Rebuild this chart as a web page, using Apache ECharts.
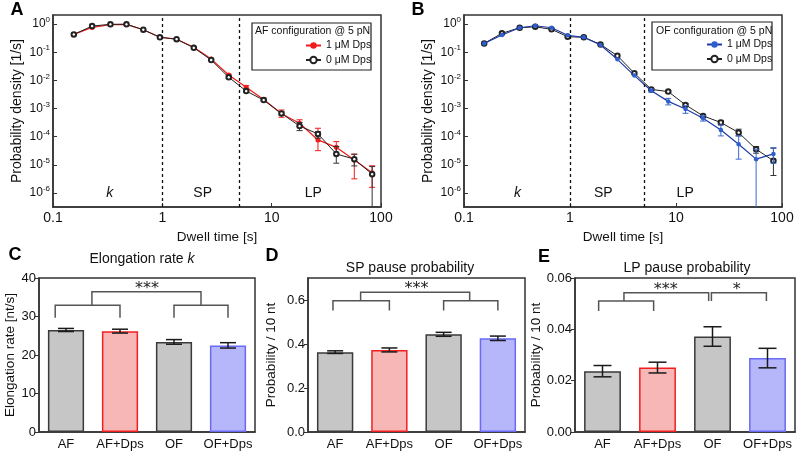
<!DOCTYPE html>
<html><head><meta charset="utf-8">
<script src="https://cdn.jsdelivr.net/npm/echarts@6/dist/echarts.min.js"></script>
<style>html,body{margin:0;padding:0;background:#fff}#c{width:800px;height:457px}</style>
</head><body><div id="c"></div>
<script>
// ---------- DATA ----------
const dwellTimes = [0.155, 0.228, 0.335, 0.47, 0.67, 0.95, 1.35, 1.94, 2.8, 4.05, 5.85, 8.45, 12.3, 18, 26.5, 39, 57, 83];
// Panel A (AF configuration)
const afDps1 = [0.43, 0.76, 0.95, 0.98, 0.63, 0.34, 0.29, 0.15, 0.057, 0.0155, 0.0057, 0.0021, 6.5e-4, 3.0e-4, 7.7e-5, 4.2e-5, 1.5e-5, 5.3e-6];
const afDps1Lo = [null, null, null, null, null, null, null, null, null, 0.0145, 0.0049, 0.0019, 4.9e-4, 2.3e-4, 3.2e-5, 2.45e-5, 3.2e-6, 1.6e-6];
const afDps1Hi = [null, null, null, null, null, null, null, null, null, 0.0166, 0.0065, 0.0024, 8.9e-4, 4.0e-4, 2.0e-4, 6.7e-5, 2.4e-5, 9.3e-6];
const afDps0 = [0.43, 0.85, 0.98, 0.98, 0.63, 0.34, 0.29, 0.144, 0.053, 0.0129, 0.0042, 0.0020, 6.7e-4, 2.4e-4, 1.26e-4, 2.45e-5, 1.6e-5, 4.7e-6];
const afDps0Lo = [null, null, null, null, null, null, null, null, null, 0.0118, 0.0039, 0.00185, 5.9e-4, 1.65e-4, 8.9e-5, 1.15e-5, 9.2e-6, 1e-8];
const afDps0Hi = [null, null, null, null, null, null, null, null, null, 0.0141, 0.0046, 0.00215, 7.6e-4, 3.2e-4, 1.5e-4, 4.5e-5, 2.4e-5, 8.7e-6];
// Panel B (OF configuration)
const ofDps1 = [0.206, 0.41, 0.74, 0.87, 0.74, 0.40, 0.34, 0.18, 0.056, 0.0148, 0.0043, 0.0018, 9.7e-4, 4.5e-4, 1.74e-4, 5.4e-5, 1.6e-5, 2.45e-5];
const ofDps1Lo = [null, null, null, null, null, null, null, null, null, null, 0.0038, 0.00135, 6.8e-4, 3.6e-4, 1.07e-4, 1.6e-5, 1e-8, 1.15e-5];
const ofDps1Hi = [null, null, null, null, null, null, null, null, null, null, 0.0049, 0.0023, 1.26e-3, 5.6e-4, 2.6e-4, 1.07e-4, 3.6e-5, 4.1e-5];
const ofDps0 = [0.206, 0.47, 0.74, 0.80, 0.65, 0.355, 0.34, 0.19, 0.075, 0.018, 0.0048, 0.0040, 1.35e-3, 5.5e-4, 3.2e-4, 1.4e-4, 3.6e-5, 1.4e-5];
const ofDps0Lo = [null, null, null, null, null, null, null, null, null, null, 0.0044, 0.0036, 1.2e-3, 4.9e-4, 2.7e-4, 1.07e-4, 2.6e-5, 4.2e-6];
const ofDps0Hi = [null, null, null, null, null, null, null, null, null, null, 0.0052, 0.0044, 1.5e-3, 6.2e-4, 3.8e-4, 1.85e-4, 4.5e-5, 3.9e-5];
const regionBounds = [1, 5];
const regionLabels = ['k', 'SP', 'LP'];
const regionLabelXA = [0.33, 2.34, 24];
const regionLabelXB = [0.32, 2.06, 12.2];
const regionLabelY = 1e-6;

// Bar panels
const barCats = ['AF', 'AF+Dps', 'OF', 'OF+Dps'];
const elongRate = [26.5, 26.2, 23.4, 22.5];
const elongErr = [0.4, 0.5, 0.6, 0.7];
const spProb = [0.363, 0.373, 0.444, 0.426];
const spErr = [0.006, 0.009, 0.009, 0.010];
const lpProb = [0.0237, 0.0251, 0.0372, 0.0288];
const lpErr = [0.0022, 0.0021, 0.0038, 0.0038];
// brackets: [fromCat, toCat, horizontalY, leftLegEndY, rightLegEndY]
const bracketsC = [[-0.2, 1, 32.9, 29.7, 29.7], [2, 3, 32.9, 29.7, 29.7], [0.48, 2.5, 36.4, 32.9, 32.9]];
const starsC = [['***', 1.5, 36.4]];
const bracketsD = [[-0.04, 1, 0.597, 0.552, 0.552], [2, 3, 0.597, 0.552, 0.552], [0.47, 2.48, 0.635, 0.597, 0.597]];
const starsD = [['***', 1.5, 0.635]];
const bracketsE = [[-0.07, 0.93, 0.051, 0.0471, 0.0471], [0.39, 1.93, 0.0543, 0.051, 0.051], [1.98, 2.98, 0.0543, 0.051, 0.051]];
const starsE = [['***', 1.15, 0.0543], ['*', 2.44, 0.0543]];

// ---------- STYLE ----------
const FF = '"Liberation Sans", Arial, sans-serif';
const barFills = ['#c6c6c6', '#f7b7b7', '#c6c6c6', '#b6b6fb'];
const barBorders = ['#3a3a3a', '#f02020', '#3a3a3a', '#6a6af5'];
const RED = '#f21a1a', BLUE_LINE = '#1f3aa8', BLUE_PT = '#2f5fcc', BLUE_ERR = '#3a6ad0', BLK = '#222';

function zip3(x, lo, hi) {
  const out = [];
  x.forEach((v, i) => { if (lo[i] != null) out.push([v, lo[i], hi[i]]); });
  return out;
}
function errBars(color, capW) {
  return (params, api) => {
    const x = api.value(0), lo = api.value(1), hi = api.value(2);
    const a = api.coord([x, hi]), b = api.coord([x, lo]);
    const st = { stroke: color, lineWidth: 1 };
    return { type: 'group', children: [
      { type: 'line', shape: { x1: a[0], y1: a[1], x2: b[0], y2: b[1] }, style: st },
      { type: 'line', shape: { x1: a[0] - capW / 2, y1: a[1], x2: a[0] + capW / 2, y2: a[1] }, style: st },
      { type: 'line', shape: { x1: b[0] - capW / 2, y1: b[1], x2: b[0] + capW / 2, y2: b[1] }, style: st }
    ] };
  };
}
function barErr(capW) {
  return (params, api) => {
    const i = api.value(0), v = api.value(1), e = api.value(2);
    const a = api.coord([i, v + e]), b = api.coord([i, v - e]);
    const st = { stroke: '#1a1a1a', lineWidth: 1.5 };
    return { type: 'group', children: [
      { type: 'line', shape: { x1: a[0], y1: a[1], x2: b[0], y2: b[1] }, style: st },
      { type: 'line', shape: { x1: a[0] - capW / 2, y1: a[1], x2: a[0] + capW / 2, y2: a[1] }, style: st },
      { type: 'line', shape: { x1: b[0] - capW / 2, y1: b[1], x2: b[0] + capW / 2, y2: b[1] }, style: st }
    ] };
  };
}
function bracketRenderer(brackets, stars) {
  return (params, api) => {
    const x0 = api.coord([0, 0])[0];
    const bw = api.size([1, 0])[0];
    const X = p => x0 + p * bw;
    const Y = v => api.coord([0, v])[1];
    const children = [];
    brackets.forEach(b => {
      const xa = X(b[0]), xb = X(b[1]), yh = Y(b[2]);
      children.push({ type: 'polyline', shape: { points: [[xa, Y(b[3])], [xa, yh], [xb, yh], [xb, Y(b[4])]] },
        style: { stroke: '#555', lineWidth: 1.5, fill: null } });
    });
    stars.forEach(s => children.push({ type: 'text', x: X(s[1]), y: Y(s[2]) - 3,
      style: { text: s[0], font: '16px "DejaVu Sans"', align: 'center', verticalAlign: 'middle', fill: '#222' } }));
    return { type: 'group', children };
  };
}
function regionText() {
  return (params, api) => {
    const p = api.coord([api.value(0), api.value(1)]);
    const i = params.dataIndex;
    return { type: 'text', x: p[0], y: p[1], style: { text: regionLabels[i],
      font: (i === 0 ? 'italic ' : '') + '14px ' + FF, align: 'center', verticalAlign: 'middle', fill: '#111' } };
  };
}
const logLabel = v => {
  const l = Math.log10(v), e = Math.round(l);
  if (Math.abs(l - e) > 0.01) return '';
  return '{b|10}{s|' + e + '}';
};

function logX(gi) {
  return { type: 'log', gridIndex: gi, min: 0.1, max: 100, logBase: 10,
    name: 'Dwell time [s]', nameLocation: 'middle', nameGap: 23,
    nameTextStyle: { fontSize: 13.5, fontFamily: FF, color: '#111' },
    axisLine: { show: true, lineStyle: { color: '#333', width: 1.5 } },
    axisTick: { show: true, inside: true, length: 4, lineStyle: { color: '#333' } },
    axisLabel: { fontSize: 14, fontFamily: FF, color: '#111', margin: 4 },
    splitLine: { show: false } };
}
function logY(gi) {
  return { type: 'log', gridIndex: gi, min: 3.2e-7, max: 2.1, logBase: 10,
    name: 'Probability density [1/s]', nameLocation: 'middle', nameGap: 29,
    nameTextStyle: { fontSize: 14, fontFamily: FF, color: '#111' },
    axisLine: { show: true, lineStyle: { color: '#333', width: 1.5 } },
    axisTick: { show: true, inside: true, length: 4, lineStyle: { color: '#333' } },
    axisLabel: { formatter: logLabel, showMinLabel: false, showMaxLabel: false, margin: 3,
      rich: { b: { fontSize: 12, fontFamily: FF, color: '#111', lineHeight: 16 },
              s: { fontSize: 8, fontFamily: FF, color: '#111', verticalAlign: 'top', lineHeight: 8 } } },
    splitLine: { show: false } };
}
function catX(gi) {
  return { type: 'category', gridIndex: gi, data: barCats,
    axisLine: { show: true, lineStyle: { color: '#333', width: 1.5 } },
    axisTick: { show: false },
    axisLabel: { interval: 0, fontSize: 13, fontFamily: FF, color: '#111', margin: 6 } };
}
function valY(gi, min, max, interval, dec, name, gap) {
  return { type: 'value', gridIndex: gi, min, max, interval,
    name, nameLocation: 'middle', nameGap: gap,
    nameTextStyle: { fontSize: 13.5, fontFamily: FF, color: '#111' },
    axisLine: { show: true, lineStyle: { color: '#333', width: 1.5 } },
    axisTick: { show: true, length: 4, lineStyle: { color: '#333' } },
    axisLabel: { fontSize: 13, fontFamily: FF, color: '#111', margin: 3, showMaxLabel: max === 0.7 ? false : true,
      formatter: v => v.toFixed(dec) },
    splitLine: { show: false } };
}
const dashed = { silent: true, symbol: 'none', label: { show: false },
  lineStyle: { type: [3, 3], color: '#111', width: 1.3 },
  data: regionBounds.map(v => ({ xAxis: v })) };

const gridBase = { show: true, borderColor: '#333', borderWidth: 1.5, backgroundColor: 'transparent' };

const option = {
  animation: false,
  backgroundColor: '#fff',
  textStyle: { fontFamily: FF },
  grid: [
    Object.assign({ left: 53, top: 15, width: 328, height: 192 }, gridBase),
    Object.assign({ left: 464, top: 15, width: 318, height: 192 }, gridBase),
    Object.assign({ left: 39, top: 278, width: 216, height: 154 }, gridBase),
    Object.assign({ left: 308, top: 278, width: 217, height: 154 }, gridBase),
    Object.assign({ left: 575, top: 278, width: 220, height: 154 }, gridBase)
  ],
  xAxis: [logX(0), logX(1), catX(2), catX(3), catX(4)],
  yAxis: [logY(0), logY(1),
    valY(2, 0, 40, 10, 0, 'Elongation rate [nt/s]', 19),
    valY(3, 0, 0.7, 0.2, 1, 'Probability / 10 nt', 30),
    valY(4, 0, 0.06, 0.02, 2, 'Probability / 10 nt', 31)],
  legend: [
    { orient: 'vertical', left: 305, top: 40, itemWidth: 15, itemHeight: 8, itemGap: 3.5, padding: 0,
      selectedMode: false, data: ['A 1 μM Dps', 'A 0 μM Dps'], formatter: n => n.slice(2),
      textStyle: { fontSize: 10.5, fontFamily: FF, color: '#111' } },
    { orient: 'vertical', left: 706, top: 39, itemWidth: 15, itemHeight: 8, itemGap: 3.5, padding: 0,
      selectedMode: false, data: ['B 1 μM Dps', 'B 0 μM Dps'], formatter: n => n.slice(2),
      textStyle: { fontSize: 10.5, fontFamily: FF, color: '#111' } }
  ],
  graphic: [
    { type: 'rect', shape: { x: 252, y: 23, width: 119, height: 47 }, style: { fill: '#fff', stroke: '#222', lineWidth: 1.2 }, z: 1 },
    { type: 'rect', shape: { x: 652, y: 22, width: 120, height: 48 }, style: { fill: '#fff', stroke: '#222', lineWidth: 1.2 }, z: 1 },
    { type: 'text', x: 255, y: 31, z: 2, style: { text: 'AF configuration @ 5 pN', font: '10.5px ' + FF, verticalAlign: 'middle', fill: '#111' } },
    { type: 'text', x: 656, y: 31, z: 2, style: { text: 'OF configuration @ 5 pN', font: '10.5px ' + FF, verticalAlign: 'middle', fill: '#111' } },
    { type: 'text', x: 17, y: 10, style: { text: 'A', font: 'bold 18px ' + FF, align: 'center', verticalAlign: 'middle', fill: '#000' } },
    { type: 'text', x: 418, y: 10, style: { text: 'B', font: 'bold 18px ' + FF, align: 'center', verticalAlign: 'middle', fill: '#000' } },
    { type: 'text', x: 15, y: 255, style: { text: 'C', font: 'bold 18px ' + FF, align: 'center', verticalAlign: 'middle', fill: '#000' } },
    { type: 'text', x: 272, y: 256, style: { text: 'D', font: 'bold 18px ' + FF, align: 'center', verticalAlign: 'middle', fill: '#000' } },
    { type: 'text', x: 544, y: 257, style: { text: 'E', font: 'bold 18px ' + FF, align: 'center', verticalAlign: 'middle', fill: '#000' } },
    { type: 'text', x: 142, y: 259, style: { text: '{n|Elongation rate }{i|k}', align: 'center', verticalAlign: 'middle',
      rich: { n: { font: '14px ' + FF, fill: '#111' }, i: { font: 'italic 14px ' + FF, fill: '#111' } } } },
    { type: 'text', x: 410, y: 268, style: { text: 'SP pause probability', font: '14px ' + FF, align: 'center', verticalAlign: 'middle', fill: '#111' } },
    { type: 'text', x: 687, y: 268, style: { text: 'LP pause probability', font: '14px ' + FF, align: 'center', verticalAlign: 'middle', fill: '#111' } }
  ],
  series: [
    // Panel A
    { type: 'line', name: 'A 1 μM Dps', xAxisIndex: 0, yAxisIndex: 0, data: dwellTimes.map((x, i) => [x, afDps1[i]]),
      symbol: 'circle', symbolSize: 5, itemStyle: { color: RED }, lineStyle: { color: RED, width: 1.2 }, z: 3, markLine: dashed },
    { type: 'custom', xAxisIndex: 0, yAxisIndex: 0, clip: true, renderItem: errBars(RED, 6), data: zip3(dwellTimes, afDps1Lo, afDps1Hi), z: 3 },
    { type: 'line', name: 'A 0 μM Dps', xAxisIndex: 0, yAxisIndex: 0, data: dwellTimes.map((x, i) => [x, afDps0[i]]),
      symbol: 'emptyCircle', symbolSize: 4.5, itemStyle: { color: BLK, borderWidth: 1.5 }, lineStyle: { color: BLK, width: 1 }, z: 4 },
    { type: 'custom', xAxisIndex: 0, yAxisIndex: 0, clip: true, renderItem: errBars('#333', 6), data: zip3(dwellTimes, afDps0Lo, afDps0Hi), z: 4 },
    { type: 'custom', xAxisIndex: 0, yAxisIndex: 0, renderItem: regionText(), data: regionLabelXA.map(x => [x, regionLabelY]), z: 5 },
    // Panel B
    { type: 'line', name: 'B 0 μM Dps', xAxisIndex: 1, yAxisIndex: 1, data: dwellTimes.map((x, i) => [x, ofDps0[i]]),
      symbol: 'emptyCircle', symbolSize: 4.5, itemStyle: { color: BLK, borderWidth: 1.5 }, lineStyle: { color: BLK, width: 1 }, z: 3, markLine: dashed },
    { type: 'custom', xAxisIndex: 1, yAxisIndex: 1, clip: true, renderItem: errBars('#333', 6), data: zip3(dwellTimes, ofDps0Lo, ofDps0Hi), z: 3 },
    { type: 'line', name: 'B 1 μM Dps', xAxisIndex: 1, yAxisIndex: 1, data: dwellTimes.map((x, i) => [x, ofDps1[i]]),
      symbol: 'circle', symbolSize: 4.5, itemStyle: { color: BLUE_PT }, lineStyle: { color: BLUE_LINE, width: 1.2 }, z: 4 },
    { type: 'custom', xAxisIndex: 1, yAxisIndex: 1, clip: true, renderItem: errBars(BLUE_ERR, 6), data: zip3(dwellTimes, ofDps1Lo, ofDps1Hi), z: 4 },
    { type: 'custom', xAxisIndex: 1, yAxisIndex: 1, renderItem: regionText(), data: regionLabelXB.map(x => [x, regionLabelY]), z: 5 },
    // Panel C
    { type: 'bar', xAxisIndex: 2, yAxisIndex: 2, barWidth: '67%',
      data: elongRate.map((v, i) => ({ value: v, itemStyle: { color: barFills[i], borderColor: barBorders[i], borderWidth: 1.5 } })) },
    { type: 'custom', xAxisIndex: 2, yAxisIndex: 2, renderItem: barErr(16), data: elongRate.map((v, i) => [i, v, elongErr[i]]), z: 5 },
    { type: 'custom', xAxisIndex: 2, yAxisIndex: 2, renderItem: bracketRenderer(bracketsC, starsC), data: [[0, 0]], z: 5 },
    // Panel D
    { type: 'bar', xAxisIndex: 3, yAxisIndex: 3, barWidth: '67%',
      data: spProb.map((v, i) => ({ value: v, itemStyle: { color: barFills[i], borderColor: barBorders[i], borderWidth: 1.5 } })) },
    { type: 'custom', xAxisIndex: 3, yAxisIndex: 3, renderItem: barErr(16), data: spProb.map((v, i) => [i, v, spErr[i]]), z: 5 },
    { type: 'custom', xAxisIndex: 3, yAxisIndex: 3, renderItem: bracketRenderer(bracketsD, starsD), data: [[0, 0]], z: 5 },
    // Panel E
    { type: 'bar', xAxisIndex: 4, yAxisIndex: 4, barWidth: '67%',
      data: lpProb.map((v, i) => ({ value: v, itemStyle: { color: barFills[i], borderColor: barBorders[i], borderWidth: 1.5 } })) },
    { type: 'custom', xAxisIndex: 4, yAxisIndex: 4, renderItem: barErr(18), data: lpProb.map((v, i) => [i, v, lpErr[i]]), z: 5 },
    { type: 'custom', xAxisIndex: 4, yAxisIndex: 4, renderItem: bracketRenderer(bracketsE, starsE), data: [[0, 0]], z: 5 }
  ]
};
const chart = echarts.init(document.getElementById('c'), null, { renderer: 'canvas' });
chart.setOption(option);
</script></body></html>
